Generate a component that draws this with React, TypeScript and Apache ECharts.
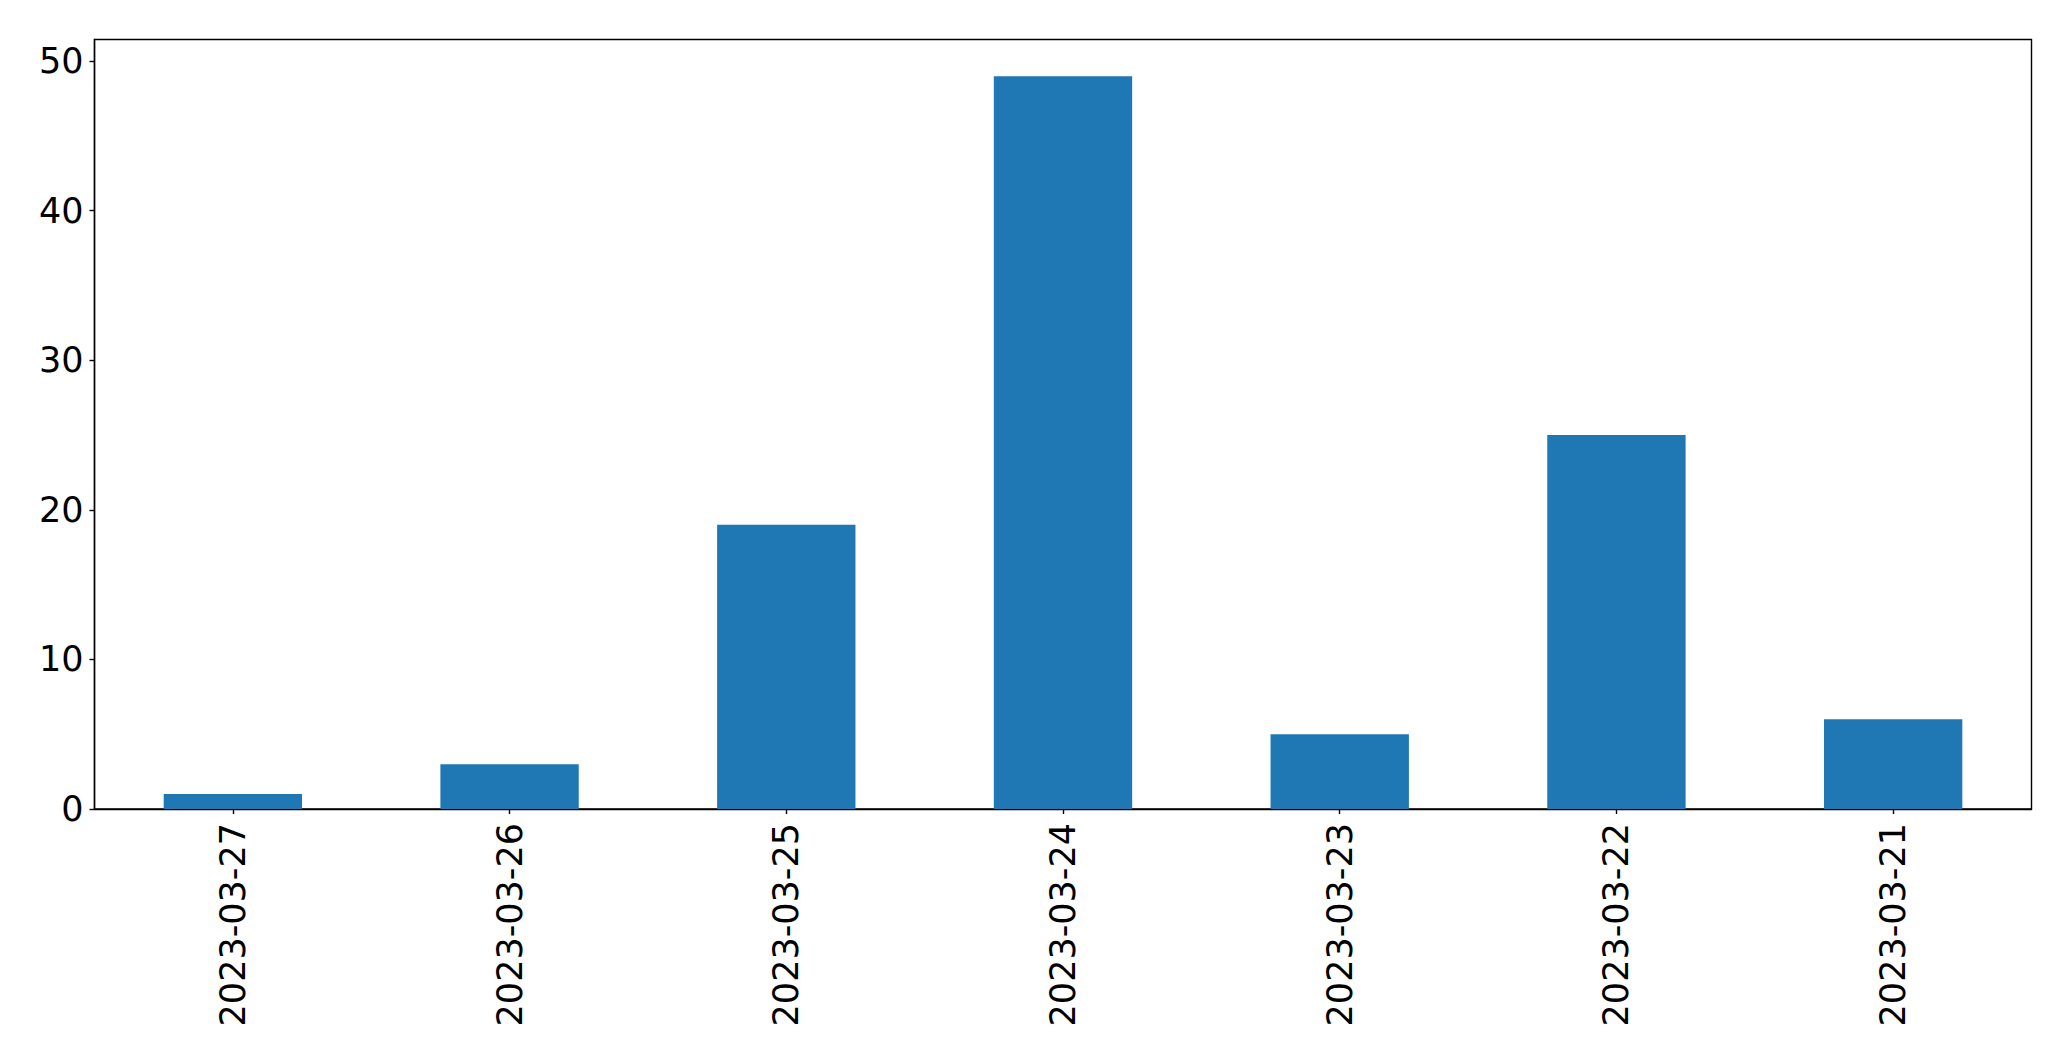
import React, { useEffect, useRef } from "react";
import * as echarts from "echarts";

const categories = ["2023-03-27", "2023-03-26", "2023-03-25", "2023-03-24", "2023-03-23", "2023-03-22", "2023-03-21"];
const values = [1, 3, 19, 49, 5, 25, 6];
const yTicks = [0, 10, 20, 30, 40, 50];

export default function App() {
  const ref = useRef<HTMLDivElement>(null);
  useEffect(() => {
    if (!ref.current) return;
    const chart = echarts.init(ref.current, null, { renderer: "svg" });
    const font = "DejaVu Sans";
    chart.setOption({
      animation: false,
      backgroundColor: "#ffffff",
      grid: {
        left: 94.5,
        top: 39.5,
        right: 39.5,
        bottom: 252,
        show: true,
        borderColor: "#000000",
        borderWidth: 1.4,
        backgroundColor: "transparent",
      },
      xAxis: {
        type: "category",
        data: categories,
        boundaryGap: true,
        axisLine: { show: true, lineStyle: { color: "#000000", width: 1.4 } },
        axisTick: { show: true, alignWithLabel: true, length: 5, lineStyle: { color: "#000000", width: 1.4 } },
        axisLabel: {
          rotate: 90,
          margin: 14,
          fontSize: 35,
          fontFamily: font,
          color: "#000000",
          interval: 0,
        },
        splitLine: { show: false },
      },
      yAxis: {
        type: "value",
        min: 0,
        max: 51.45,
        interval: 10,
        axisLine: { show: true, lineStyle: { color: "#000000", width: 1.4 } },
        axisTick: { show: true, length: 5, lineStyle: { color: "#000000", width: 1.4 } },
        axisLabel: {
          margin: 11,
          fontSize: 35,
          fontFamily: font,
          color: "#000000",
          showMaxLabel: false,
          formatter: (v: number) => (yTicks.includes(v) ? String(v) : ""),
        },
        splitLine: { show: false },
      },
      series: [
        {
          type: "bar",
          data: values,
          barWidth: "50%",
          itemStyle: { color: "#1f77b4" },
        },
      ],
    });
    return () => chart.dispose();
  }, []);
  return (
    <div
      ref={ref}
      style={{ position: "absolute", left: 0, top: 0, width: "2071px", height: "1061px" }}
    />
  );
}
